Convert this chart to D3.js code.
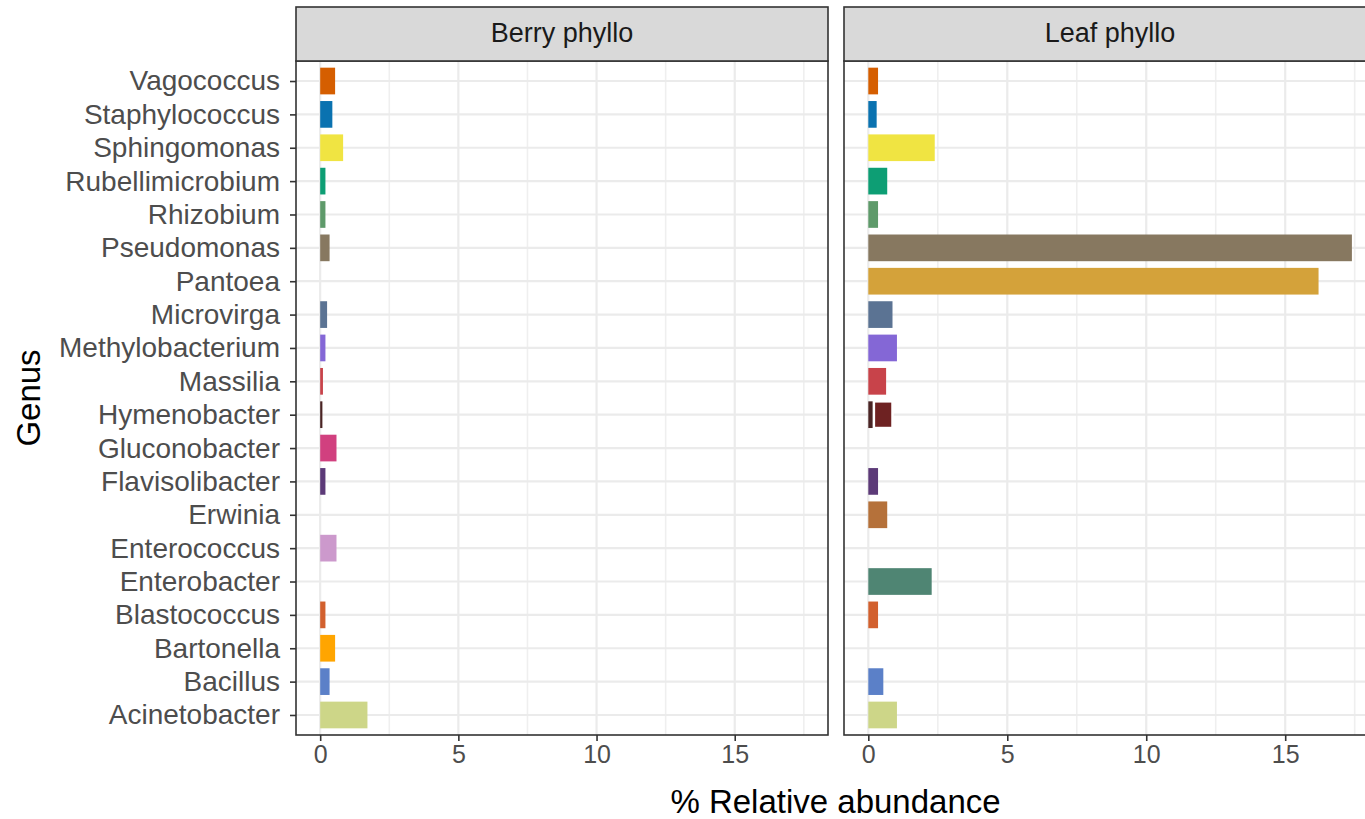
<!DOCTYPE html>
<html>
<head>
<meta charset="utf-8">
<script src="https://cdn.jsdelivr.net/npm/d3@7"></script>
<style>
  body { margin: 0; background: #fff; }
  text { font-family: "Liberation Sans", Arial, sans-serif; }
</style>
</head>
<body>
<svg id="chart" width="1365" height="819"></svg>
<script>
// genus order, top to bottom
var genera = ["Vagococcus", "Staphylococcus", "Sphingomonas", "Rubellimicrobium", "Rhizobium",
    "Pseudomonas", "Pantoea", "Microvirga", "Methylobacterium", "Massilia", "Hymenobacter",
    "Gluconobacter", "Flavisolibacter", "Erwinia", "Enterococcus", "Enterobacter",
    "Blastococcus", "Bartonella", "Bacillus", "Acinetobacter"];

var panels = ["Berry phyllo", "Leaf phyllo"];

var berryValues = [0.54, 0.44, 0.83, 0.19, 0.19, 0.34, 0, 0.25, 0.19, 0.10, 0.08,
    0.59, 0.19, 0, 0.59, 0, 0.19, 0.54, 0.34, 1.71];
var leafValues = [0.35, 0.30, 2.39, 0.68, 0.35, 17.4, 16.2, 0.87, 1.03, 0.64, 0.20,
    0, 0.35, 0.68, 0, 2.28, 0.35, 0, 0.54, 1.03];
// second stacked segment (only Hymenobacter in leaf has one)
var leafSecond = [0, 0, 0, 0, 0, 0, 0, 0, 0, 0, 0.67,
    0, 0, 0, 0, 0, 0, 0, 0, 0];

var genusColors = ["#d55e00", "#0a72b0", "#f0e442", "#0d9e74", "#5e9a6a", "#877860",
    "#d4a23a", "#5b7393", "#8467d6", "#c8434a", "#4a2424", "#d1407f", "#5c3a78",
    "#b5713a", "#cc99cc", "#4f8573", "#d2602e", "#ffa500", "#5b80c8", "#cdd688"];
var secondColor = "#6e2222";

var xTicks = [0, 5, 10, 15];
var xMinor = [2.5, 7.5, 12.5, 17.5];

function drawChart() {
    var svg = d3.select("#chart");

    var panelTop = 61, panelBottom = 735, stripTop = 7;
    var panelBox = [{x0: 296, x1: 828}, {x0: 844, x1: 1379}];
    var xmax = 17.5;
    var domain = [-0.05 * xmax, 1.05 * xmax];

    var y = d3.scalePoint().domain(genera).range([panelTop, panelBottom]).padding(0.6);
    var barH = y.step() * 0.8;

    var data = [
        genera.map(function(g, i) { return {genus: g, v0: 0, v1: berryValues[i], color: genusColors[i]}; }),
        genera.map(function(g, i) {
            var segs = [{genus: g, v0: 0, v1: leafValues[i], color: genusColors[i]}];
            if (leafSecond[i] > 0) segs.push({genus: g, v0: leafValues[i], v1: leafValues[i] + leafSecond[i], color: secondColor, second: true});
            return segs;
        }).flat()
    ];

    var defs = svg.append("defs");

    panels.forEach(function(name, p) {
        var box = panelBox[p];
        var x = d3.scaleLinear().domain(domain).range([box.x0, box.x1]);

        defs.append("clipPath").attr("id", "clip" + p)
            .append("rect").attr("x", box.x0).attr("y", panelTop)
            .attr("width", box.x1 - box.x0).attr("height", panelBottom - panelTop);

        var g = svg.append("g");
        var inner = g.append("g").attr("clip-path", "url(#clip" + p + ")");

        // grid
        inner.selectAll(".minor").data(xMinor).enter().append("line")
            .attr("x1", function(d) { return x(d); }).attr("x2", function(d) { return x(d); })
            .attr("y1", panelTop).attr("y2", panelBottom)
            .attr("stroke", "#efefef").attr("stroke-width", 1.6);
        inner.selectAll(".major").data(xTicks).enter().append("line")
            .attr("x1", function(d) { return x(d); }).attr("x2", function(d) { return x(d); })
            .attr("y1", panelTop).attr("y2", panelBottom)
            .attr("stroke", "#ebebeb").attr("stroke-width", 2.2);
        inner.selectAll(".hgrid").data(genera).enter().append("line")
            .attr("x1", box.x0).attr("x2", box.x1)
            .attr("y1", function(d) { return y(d); }).attr("y2", function(d) { return y(d); })
            .attr("stroke", "#ebebeb").attr("stroke-width", 2.2);

        // bars
        inner.selectAll(".bar").data(data[p].filter(function(d) { return d.v1 > d.v0; }))
            .enter().append("rect")
            .attr("x", function(d) { return x(d.v0); })
            .attr("y", function(d) { return y(d.genus) - barH / 2; })
            .attr("width", function(d) { return x(d.v1) - x(d.v0); })
            .attr("height", barH)
            .attr("fill", function(d) { return d.color; })
            .attr("stroke", function(d) { return d.second ? "#fff" : "none"; })
            .attr("stroke-width", function(d) { return d.second ? 2.5 : 0; });

        // panel border
        g.append("rect").attr("x", box.x0).attr("y", panelTop)
            .attr("width", box.x1 - box.x0).attr("height", panelBottom - panelTop)
            .attr("fill", "none").attr("stroke", "#333").attr("stroke-width", 1.6);

        // strip
        g.append("rect").attr("x", box.x0).attr("y", stripTop)
            .attr("width", box.x1 - box.x0).attr("height", panelTop - stripTop)
            .attr("fill", "#d9d9d9").attr("stroke", "#333").attr("stroke-width", 1.6);
        g.append("text")
            .attr("x", p === 0 ? (box.x0 + box.x1) / 2 : 1110)
            .attr("y", 42)
            .attr("text-anchor", "middle")
            .attr("font-size", 27).attr("fill", "#1a1a1a")
            .text(name);

        // x axis
        var xa = g.append("g").attr("transform", "translate(0," + panelBottom + ")")
            .call(d3.axisBottom(x).tickValues(xTicks).tickSize(6).tickPadding(4));
        xa.select(".domain").remove();
        xa.selectAll("line").attr("stroke", "#333").attr("stroke-width", 1.6);
        xa.selectAll("text").attr("font-size", 25).attr("fill", "#4d4d4d")
            .attr("font-family", "Liberation Sans, Arial, sans-serif");

        // y axis only on first panel
        if (p === 0) {
            var ya = g.append("g").attr("transform", "translate(" + box.x0 + ",0)")
                .call(d3.axisLeft(y).tickSize(6).tickPadding(10));
            ya.select(".domain").remove();
            ya.selectAll("line").attr("stroke", "#333").attr("stroke-width", 1.6);
            ya.selectAll("text").attr("font-size", 28).attr("fill", "#4d4d4d")
                .attr("font-family", "Liberation Sans, Arial, sans-serif");
        }
    });

    // axis titles
    svg.append("text")
        .attr("x", (panelBox[0].x0 + panelBox[1].x1) / 2 - 2).attr("y", 813)
        .attr("text-anchor", "middle").attr("font-size", 33).attr("fill", "#000")
        .text("% Relative abundance");

    svg.append("text")
        .attr("transform", "translate(40," + ((panelTop + panelBottom) / 2) + ") rotate(-90)")
        .attr("text-anchor", "middle").attr("font-size", 33).attr("fill", "#000")
        .text("Genus");
}

drawChart();
</script>
</body>
</html>
